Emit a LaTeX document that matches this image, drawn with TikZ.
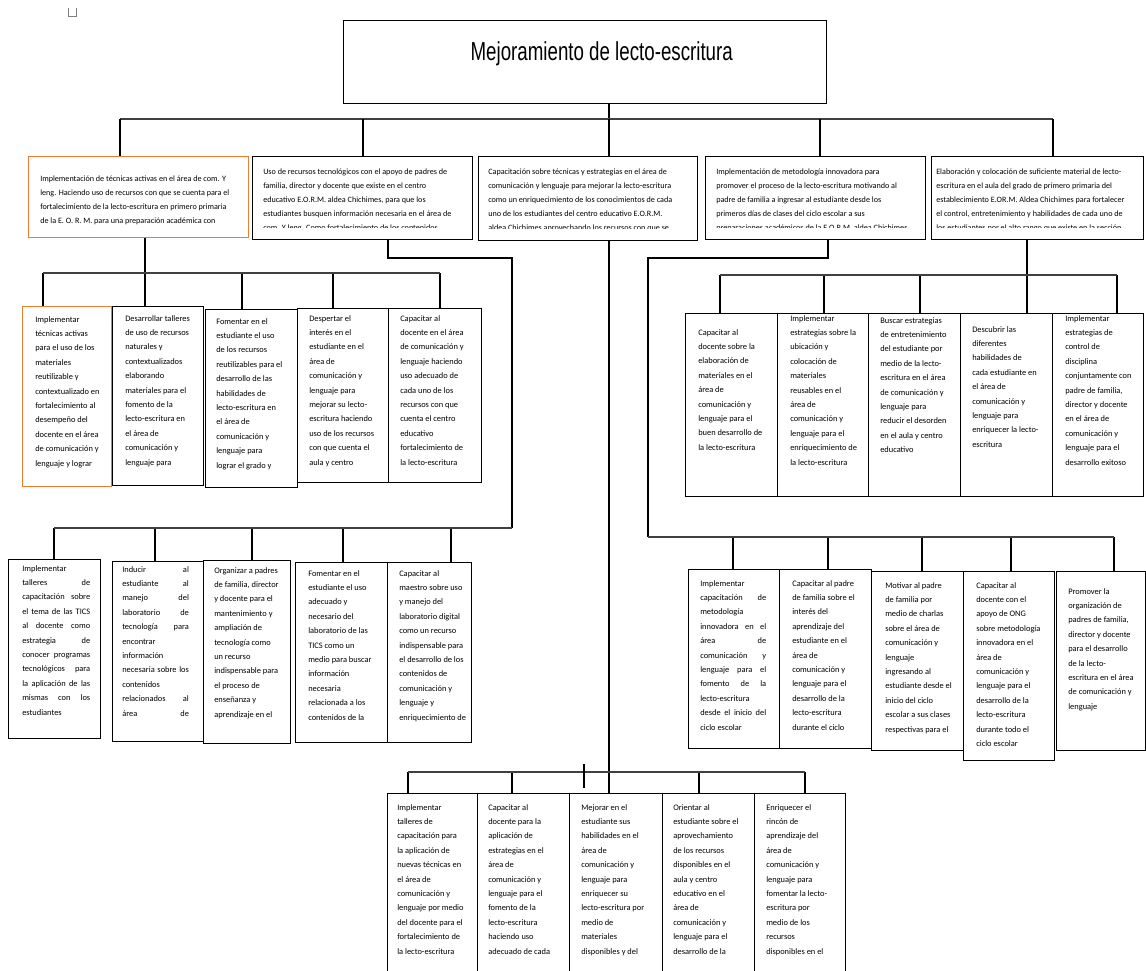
\documentclass[tikz,border=0pt]{standalone}
\usepackage{graphicx}
\usepackage{fontspec}
\setmainfont{Carlito}
\newfontfamily\titulo{Liberation Sans}
\definecolor{naranja}{RGB}{237,125,49}
\newcommand{\jlin}[2][51pt]{\makebox[#1][s]{#2}}
\tikzset{
  caja/.style 2 args={draw, line width=1.1pt, inner sep=0pt, anchor=north west,
    minimum width={#1*0.75pt}, minimum height={#2*0.75pt}},
  texto/.style={font=\fontsize{6.3}{10.8}\selectfont, align=left, inner sep=0pt, anchor=north west},
  textop/.style={texto, font=\fontsize{6.1}{10.5}\selectfont},
  enlace/.style={line width=0.8pt},
  bus/.style={line width=1.1pt, black!75},
}
\begin{document}
\begin{tikzpicture}[x=0.75pt, y=-0.75pt]
\useasboundingbox (0,0) rectangle (1146,971);
\clip (0,0) rectangle (1146,971);

% Title
\draw[gray, line width=0.5pt] (68,8) -- (68,16) -- (76,16) -- (76,8);
\node[caja={483}{83}] (tit) at (343,20) {};
\node[font=\titulo\fontsize{19.5}{22}\selectfont, inner sep=0pt] (tlt) at ([shift={(16.5,-8.5)}]tit.center)
  {\scalebox{0.72}[1]{Mejoramiento de lecto-escritura}};

% First level
\node[caja={220}{81}, draw=naranja] (tec) at (28,156) {};
\node[caja={220}{83}] (rec) at (252,156) {};
\node[caja={219}{84}] (cap) at (478,156) {};
\node[caja={220}{83}] (met) at (705,156) {};
\node[caja={212}{83}] (mat) at (931,156) {};
\begin{scope}
\clip (tec.north west) rectangle ([shift={(0,-13)}]tec.south east);
\node[textop] (ttec) at ([shift={(12,20)}]tec.north west) {Implementación de técnicas activas en el área de com. Y\\
leng. Haciendo uso de  recursos con que se cuenta para el\\
fortalecimiento de la lecto-escritura en primero primaria\\
de la  E. O. R. M. para una preparación académica con};
\end{scope}
\begin{scope}
\clip (rec.north west) rectangle ([shift={(0,-13)}]rec.south east);
\node[textop] (trec) at ([shift={(11,13)}]rec.north west) {Uso de recursos tecnológicos con el apoyo de padres de\\
familia, director y docente que existe en el centro\\
educativo E.O.R.M. aldea Chichimes, para que los\\
estudiantes busquen información necesaria en el área de\\
com. Y leng. Como fortalecimiento de los contenidos};
\end{scope}
\begin{scope}
\clip (cap.north west) rectangle ([shift={(0,-13)}]cap.south east);
\node[textop] (tcap) at ([shift={(10,13)}]cap.north west) {Capacitación sobre técnicas y estrategias en el área de\\
comunicación y lenguaje para mejorar la lecto-escritura\\
como un enriquecimiento de los conocimientos de cada\\
uno de los estudiantes del centro educativo E.O.R.M.\\
aldea Chichimes aprovechando los recursos con que se};
\end{scope}
\begin{scope}
\clip (met.north west) rectangle ([shift={(0,-13)}]met.south east);
\node[textop] (tmet) at ([shift={(11,13)}]met.north west) {Implementación de metodología innovadora para\\
promover el proceso de la lecto-escritura motivando al\\
padre de familia a ingresar al estudiante desde los\\
primeros días de clases del ciclo escolar a sus\\
preparaciones académicos de la E.O.R.M. aldea Chichimes};
\end{scope}
\begin{scope}
\clip (mat.north west) rectangle ([shift={(0,-13)}]mat.south east);
\node[textop] (tmat) at ([shift={(5,13)}]mat.north west) {Elaboración y colocación de suficiente material de lecto-\\
escritura en el aula del grado de primero primaria del\\
establecimiento E.OR.M. Aldea Chichimes para fortalecer\\
el control, entretenimiento y habilidades de cada uno de\\
los estudiantes por el alto rango que existe en la sección};
\end{scope}

% Left, first row
\node[caja={89}{180}, draw=naranja] (l1) at (22,306) {};
\node[caja={91}{179}] (l2) at (112,306) {};
\node[caja={92}{178}] (l3) at (205,309) {};
\node[caja={91}{174}] (l4) at (297,308) {};
\node[caja={93}{174}] (l5) at (388,308) {};
\node[texto] (tl1) at ([shift={(13,10)}]l1.north west) {Implementar\\ técnicas activas\\ para el uso de los\\ materiales\\ reutilizable y\\ contextualizado en\\ fortalecimiento al\\ desempeño del\\ docente en el área\\ de comunicación y\\ lenguaje y lograr};
\node[texto] (tl2) at ([shift={(13,9)}]l2.north west) {Desarrollar talleres\\ de uso de recursos\\ naturales y\\ contextualizados\\ elaborando\\ materiales para el\\ fomento de la\\ lecto-escritura en\\ el área de\\ comunicación y\\ lenguaje para};
\node[texto] (tl3) at ([shift={(11,9)}]l3.north west) {Fomentar en el\\ estudiante el uso\\ de los recursos\\ reutilizables para el\\ desarrollo de las\\ habilidades de\\ lecto-escritura en\\ el área de\\ comunicación y\\ lenguaje para\\ lograr el grado y};
\node[texto] (tl4) at ([shift={(12,7)}]l4.north west) {Despertar el\\ interés en el\\ estudiante en el\\ área de\\ comunicación y\\ lenguaje para\\ mejorar su lecto-\\ escritura haciendo\\ uso de los recursos\\ con que cuenta el\\ aula y centro};
\node[texto] (tl5) at ([shift={(12,7)}]l5.north west) {Capacitar al\\ docente en el área\\ de comunicación y\\ lenguaje haciendo\\ uso adecuado de\\ cada uno de los\\ recursos con que\\ cuenta el centro\\ educativo\\ fortalecimiento de\\ la lecto-escritura};

% Left, second row
\node[caja={92}{179}] (m1) at (8,559) {};
\node[caja={91}{180}] (m2) at (112,561) {};
\node[caja={87}{183}] (m3) at (203,560) {};
\node[caja={92}{180}] (m4) at (295,562) {};
\node[caja={84}{180}] (m5) at (387,562) {};
\node[texto] (tm1) at ([shift={(14,6)}]m1.north west) {Implementar\\ \jlin{talleres de}\\ \jlin{capacitación sobre}\\ \jlin{el tema de las TICS}\\ \jlin{al docente como}\\ \jlin{estrategia de}\\ \jlin{conocer programas}\\ \jlin{tecnológicos para}\\ \jlin{la aplicación de las}\\ \jlin{mismas con los}\\ estudiantes};
\node[texto] (tm2) at ([shift={(10,5)}]m2.north west) {\jlin[50pt]{Inducir al}\\ \jlin[50pt]{estudiante al}\\ \jlin[50pt]{manejo del}\\ \jlin[50pt]{laboratorio de}\\ \jlin[50pt]{tecnología para}\\ encontrar\\ información\\ \jlin[50pt]{necesaria sobre los}\\ contenidos\\ \jlin[50pt]{relacionados al}\\ \jlin[50pt]{área de}};
\node[texto] (tm3) at ([shift={(11,7)}]m3.north west) {Organizar a padres\\ de familia, director\\ y docente para el\\ mantenimiento y\\ ampliación de\\ tecnología como\\ un recurso\\ indispensable para\\ el proceso de\\ enseñanza y\\ aprendizaje en el};
\node[texto] (tm4) at ([shift={(13,8)}]m4.north west) {Fomentar en el\\ estudiante el uso\\ adecuado y\\ necesario del\\ laboratorio de las\\ TICS como un\\ medio para buscar\\ información\\ necesaria\\ relacionada a los\\ contenidos de la};
\node[texto] (tm5) at ([shift={(12,8)}]m5.north west) {Capacitar al\\ maestro sobre uso\\ y manejo del\\ laboratorio digital\\ como un recurso\\ indispensable para\\ el desarrollo de los\\ contenidos de\\ comunicación y\\ lenguaje y\\ enriquecimiento de};

% Right, first row
\node[caja={92}{183}] (r1) at (685,313) {};
\node[caja={91}{183}] (r2) at (777,313) {};
\node[caja={92}{183}] (r3) at (868,313) {};
\node[caja={92}{183}] (r4) at (960,313) {};
\node[caja={91}{183}] (r5) at (1052,313) {};
\node[texto] (tr1) at ([shift={(13,16)}]r1.north west) {Capacitar al\\ docente sobre la\\ elaboración de\\ materiales en el\\ área de\\ comunicación y\\ lenguaje para el\\ buen desarrollo de\\ la lecto-escritura};
\node[texto] (tr2) at ([shift={(13,2)}]r2.north west) {Implementar\\ estrategias sobre la\\ ubicación y\\ colocación de\\ materiales\\ reusables en el\\ área de\\ comunicación y\\ lenguaje para el\\ enriquecimiento de\\ la lecto-escritura};
\node[texto] (tr3) at ([shift={(12,4)}]r3.north west) {Buscar estrategias\\ de entretenimiento\\ del estudiante por\\ medio de la lecto-\\ escritura en el área\\ de comunicación y\\ lenguaje para\\ reducir el desorden\\ en el aula y centro\\ educativo};
\node[texto] (tr4) at ([shift={(12,13)}]r4.north west) {Descubrir las\\ diferentes\\ habilidades de\\ cada estudiante en\\ el área de\\ comunicación y\\ lenguaje para\\ enriquecer la lecto-\\ escritura};
\node[texto] (tr5) at ([shift={(13,2)}]r5.north west) {Implementar\\ estrategias de\\ control de\\ disciplina\\ conjuntamente con\\ padre de familia,\\ director y docente\\ en el área de\\ comunicación y\\ lenguaje para el\\ desarrollo exitoso};

% Right, second row
\node[caja={91}{179}] (s1) at (688,569) {};
\node[caja={92}{179}] (s2) at (779,569) {};
\node[caja={92}{179}] (s3) at (871,571) {};
\node[caja={91}{189}] (s4) at (963,571) {};
\node[caja={89}{179}] (s5) at (1056,571) {};
\node[texto] (ts1) at ([shift={(12,11)}]s1.north west) {Implementar\\ \jlin[49.5pt]{capacitación de}\\ metodología\\ \jlin[49.5pt]{innovadora en el}\\ \jlin[49.5pt]{área de}\\ \jlin[49.5pt]{comunicación y}\\ \jlin[49.5pt]{lenguaje para el}\\ \jlin[49.5pt]{fomento de la}\\ lecto-escritura\\ \jlin[49.5pt]{desde el inicio del}\\ ciclo escolar};
\node[texto] (ts2) at ([shift={(13,11)}]s2.north west) {Capacitar al padre\\ de familia sobre el\\ interés del\\ aprendizaje del\\ estudiante en el\\ área de\\ comunicación y\\ lenguaje para el\\ desarrollo de la\\ lecto-escritura\\ durante el ciclo};
\node[texto] (ts3) at ([shift={(14,11)}]s3.north west) {Motivar al padre\\ de familia por\\ medio de charlas\\ sobre el área de\\ comunicación y\\ lenguaje\\ ingresando al\\ estudiante desde el\\ inicio del ciclo\\ escolar a sus clases\\ respectivas para el};
\node[texto] (ts4) at ([shift={(13,11)}]s4.north west) {Capacitar al\\ docente con el\\ apoyo de ONG\\ sobre metodología\\ innovadora en el\\ área de\\ comunicación y\\ lenguaje para el\\ desarrollo de la\\ lecto-escritura\\ durante todo el\\ ciclo escolar};
\node[texto] (ts5) at ([shift={(12,17)}]s5.north west) {Promover la\\ organización de\\ padres de familia,\\ director y docente\\ para el desarrollo\\ de la lecto-\\ escritura en el área\\ de comunicación y\\ lenguaje};

% Bottom row
\node[caja={90}{180}] (n1) at (387,793) {};
\node[caja={92}{180}] (n2) at (477,793) {};
\node[caja={93}{180}] (n3) at (569,793) {};
\node[caja={92}{180}] (n4) at (662,793) {};
\node[caja={91}{180}] (n5) at (754,793) {};
\node[texto] (tn1) at ([shift={(10,11)}]n1.north west) {Implementar\\ talleres de\\ capacitación para\\ la aplicación de\\ nuevas técnicas en\\ el área de\\ comunicación y\\ lenguaje por medio\\ del docente para el\\ fortalecimiento de\\ la lecto-escritura};
\node[texto] (tn2) at ([shift={(11,11)}]n2.north west) {Capacitar al\\ docente para la\\ aplicación de\\ estrategias en el\\ área de\\ comunicación y\\ lenguaje para el\\ fomento de la\\ lecto-escritura\\ haciendo uso\\ adecuado de cada};
\node[texto] (tn3) at ([shift={(12,11)}]n3.north west) {Mejorar en el\\ estudiante sus\\ habilidades en el\\ área de\\ comunicación y\\ lenguaje para\\ enriquecer su\\ lecto-escritura por\\ medio de\\ materiales\\ disponibles y del};
\node[texto] (tn4) at ([shift={(11,11)}]n4.north west) {Orientar al\\ estudiante sobre el\\ aprovechamiento\\ de los recursos\\ disponibles en el\\ aula y centro\\ educativo en el\\ área de\\ comunicación y\\ lenguaje para el\\ desarrollo de la};
\node[texto] (tn5) at ([shift={(12,11)}]n5.north west) {Enriquecer el\\ rincón de\\ aprendizaje del\\ área de\\ comunicación y\\ lenguaje para\\ fomentar la lecto-\\ escritura por\\ medio de los\\ recursos\\ disponibles en el};

% Connectors: title to first level
\coordinate (ka) at (120,119);
\coordinate (kb) at (363,119);
\coordinate (kc) at (609,119);
\coordinate (kd) at (820,119);
\coordinate (ke) at (1053,119);
\draw[enlace] (tit.south -| kc) -- (kc);
\draw[bus] (ka) -- (ke);
\foreach \k/\n in {ka/tec, kb/rec, kc/cap, kd/met, ke/mat}
  \draw[enlace] (\k) -- (\k |- \n.north);

% Connectors: left, first row
\coordinate (ja) at (145,273);
\draw[enlace] (ja |- tec.south) -- (ja);
\foreach \x/\n in {43/l1, 145/l2, 242/l3, 333/l4, 440/l5} {
  \coordinate (j\n) at (\x,273);
  \draw[enlace] (j\n) -- (j\n |- \n.north);
}
\draw[bus] (jl1) -- (jl5);

% Connectors: left, second row
\coordinate (qb) at (388,258);
\coordinate (qc) at (512,258);
\coordinate (qm) at (512,528);
\draw[enlace] (qb |- rec.south) -- (qb) -- (qc) -- (qm);
\foreach \x/\n in {54/m1, 155/m2, 252/m3, 343/m4, 451/m5} {
  \coordinate (j\n) at (\x,528);
  \draw[enlace] (j\n) -- (j\n |- \n.north);
}
\draw[bus] (jm1) -- (qm);

% Connectors: bottom row
\draw[enlace] (kc |- cap.south) -- (kc |- n3.north);
\foreach \x/\n in {408/n1, 512/n2, 699/n4, 805/n5} {
  \coordinate (j\n) at (\x,772);
  \draw[enlace] (j\n) -- (j\n |- \n.north);
}
\draw[bus] (jn1) -- (jn5);
\draw[enlace] (584,764) -- (584,788);

% Connectors: right, second row
\coordinate (qd) at (828,258);
\coordinate (qe) at (648,258);
\coordinate (qs) at (648,537);
\draw[enlace] (qd |- met.south) -- (qd) -- (qe) -- (qs);
\foreach \x/\n in {733/s1, 828/s2, 922/s3, 1011/s4, 1114/s5} {
  \coordinate (j\n) at (\x,537);
  \draw[enlace] (j\n) -- (j\n |- \n.north);
}
\draw[bus] (qs) -- (js5);

% Connectors: right, first row
\coordinate (jr4) at (1027,275);
\draw[enlace] (jr4 |- mat.south) -- (jr4 |- r4.north);
\foreach \x/\n in {720/r1, 824/r2, 920/r3, 1117/r5} {
  \coordinate (j\n) at (\x,275);
  \draw[enlace] (j\n) -- (j\n |- \n.north);
}
\draw[bus] (jr1) -- (jr5);
\end{tikzpicture}
\end{document}
